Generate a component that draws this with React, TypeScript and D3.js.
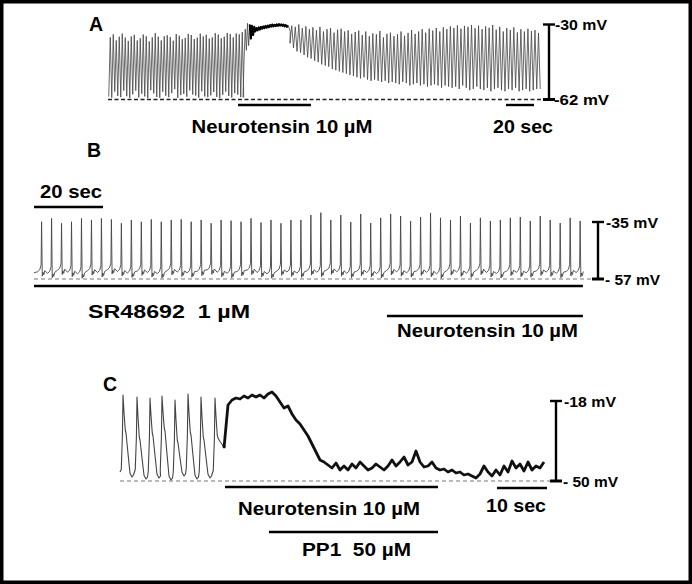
import React from "react";
import * as d3 from "d3";

const W = 692;
const H = 584;
const font = "'Liberation Sans', Arial, Helvetica, sans-serif";

// ---- Panel A: spontaneous firing, neurotensin 10 µM (mV) ----
const aPreSpan = [1.5, 89.5]; // s, first/last spike before the drug
const aPrePeaks = [-35.5, -34.2, -36.8, -35.2, -33.9, -35.6, -37.0, -35.1, -34.4, -36.8, -35.9, -34.3, -35.0, -37.2, -35.5, -33.7, -35.2, -36.8, -35.0, -34.6, -35.4, -36.9, -34.1, -34.8, -36.3, -35.7, -34.0, -34.5, -36.2, -35.6, -33.9, -35.1, -34.4, -36.0, -35.5, -33.7, -34.3, -35.9, -35.2, -33.6, -34.1, -35.5, -33.8, -34.2, -33.3];
const aPreTroughs = [-60.8, -61.2, -58.6, -60.5, -61.0, -58.2, -60.6, -61.3, -59.8, -58.2, -61.1, -59.5, -60.7, -61.4, -58.0, -59.4, -60.9, -61.2, -58.7, -60.4, -61.0, -59.3, -57.6, -61.3, -60.1, -59.6, -60.8, -58.1, -59.9, -60.3, -61.2, -58.5, -60.7, -61.0, -60.2, -58.8, -60.9, -61.3, -60.0, -58.6, -60.5, -61.1, -59.3, -59.9, -61.0];
const aPlateauStart = 90;
const aPlateauStep = 0.75;
const aPlateau = [-61.0, -44, -32, -41, -29.5, -39, -30, -36, -30.5, -34.5, -31, -33, -31.5, -32.5, -31.2, -32.2, -31, -31.8, -30.8, -31.6, -30.6, -31.4, -30.4, -31.2, -30.2, -30.9, -30, -30.8, -30.1, -30.7, -29.9, -30.6, -29.8, -30.5, -29.9, -30.6, -30, -30.8, -30.2, -31, -30.4, -31.5, -33];
const aPostSpan = [122.5, 287];
const aPostPeaks = [-30.5, -31, -30, -31.5, -30.8, -32, -31.2, -32.5, -31, -33, -32, -31.5, -33.5, -32.2, -31.8, -33, -32.5, -34, -33.2, -32.6, -34.5, -33, -35, -33.8, -34.2, -32.8, -35.5, -34, -33.5, -35, -34.2, -33, -34.8, -33.6, -32.4, -34, -33, -32, -33.5, -31.8, -32.6, -31.5, -33, -31.2, -32, -30.8, -31.5, -30.4, -31.8, -30.6, -31, -30.2, -31.6, -30.5, -32, -30.8, -31.4, -30.2, -32.2, -31, -33, -31.6, -32.4, -31.2, -33.4, -32, -33, -31.8, -32.8, -32.4, -33.6];
const aPostTroughs = [-38, -40, -41.5, -42, -43, -44, -44.5, -45.5, -46, -47, -47.5, -48, -49, -49.5, -50, -50.5, -51, -51.5, -52, -52.5, -53, -52.5, -53.5, -54, -53.5, -54, -54.5, -54, -55, -54.5, -55, -55.5, -54.5, -55, -56, -55.5, -55, -56, -55.5, -56.5, -56, -55.5, -56, -57, -56, -56.5, -57, -56.5, -57.5, -56, -57, -58, -57.5, -56.5, -57.5, -58, -57, -58.5, -57.5, -57, -58, -58.5, -57.5, -58, -57, -58.5, -58, -57.5, -58.5, -58, -57.5];

// ---- Panel B: SR48692 1 µM, then neurotensin 10 µM ----
const bSpan = [2.2, 158.3];
const bPeaks = [-34.9, -33.6, -35.5, -34.9, -33.6, -34.2, -33.6, -34.0, -35.5, -34.2, -34.9, -34.0, -34.9, -34.2, -34.0, -34.9, -34.2, -35.5, -34.2, -34.5, -34.9, -33.6, -35.2, -34.2, -35.5, -34.2, -34.2, -32.3, -31.4, -34.2, -32.3, -35.0, -31.9, -35.4, -33.4, -31.9, -32.7, -34.6, -33.1, -31.5, -33.4, -34.2, -32.7, -35.4, -33.4, -34.6, -34.2, -33.4, -33.1, -34.6, -32.7, -34.2, -35.4, -33.4, -34.6];
const bTroughs = [-55.6, -56.2, -55.0, -55.8, -56.4, -55.2, -55.9, -54.8, -55.5, -56.1, -55.3, -55.9, -56.3, -55.1, -55.7, -56.0, -55.4, -54.9, -55.8, -56.2, -55.5, -55.0, -55.9, -56.4, -55.3, -55.7, -56.1, -55.2, -55.8, -54.9, -55.6, -56.2, -55.4, -55.9, -56.3, -55.1, -55.6, -56.0, -55.3, -55.8, -56.4, -55.2, -55.7, -56.1, -55.0, -55.9, -56.3, -55.4, -55.8, -56.0, -55.3, -55.7, -56.2, -55.5, -55.9];

// ---- Panel C: neurotensin 10 µM + PP1 50 µM ----
const cSpikeTimes = [0.6, 3.4, 6.0, 8.4, 11.0, 13.6, 16.2, 19.0];
const cPeaks = [-15.6, -16.4, -16.8, -16.0, -17.6, -15.2, -16.4, -16.8];
const cShoulders = [-29.6, -32.4, -30.8, -28.8, -33.6, -30.4, -32.4, -31.6];
const cTroughs = [-48.4, -49.2, -48.8, -49.6, -48.0, -49.2, -48.8, -36.8];
const cPlateauStart = 20.8;
const cPlateauStep = 0.8;
const cPlateau = [-36.8, -19.6, -17.6, -16.8, -17.2, -16.0, -16.8, -15.6, -16.4, -15.6, -16.8, -15.2, -14.4, -16.0, -18.4, -20.8, -20.0, -23.2, -25.6, -27.2, -29.6, -32.0, -35.2, -38.4, -41.6, -42.4, -43.6, -44.8, -42.8, -45.6, -44.0, -45.6, -43.2, -44.8, -42.4, -44.0, -45.6, -44.8, -43.2, -44.4, -45.6, -44.0, -41.6, -44.0, -42.4, -40.4, -43.6, -42.4, -38.0, -42.4, -44.4, -44.0, -42.4, -44.8, -45.6, -45.2, -46.4, -45.6, -46.8, -46.4, -47.6, -47.2, -48.0, -48.8, -47.2, -44.0, -46.4, -48.0, -45.6, -47.6, -44.0, -46.4, -42.0, -44.8, -43.2, -46.0, -42.4, -45.6, -44.0, -44.8, -42.4];

// scales (time in s, voltage in mV)
const xA = d3.scaleLinear().domain([0, 288]).range([108, 540]);
const yA = d3.scaleLinear().domain([-62, -30]).range([99.5, 24.5]);
const xB = d3.scaleLinear().domain([0, 160]).range([34, 586]);
const yB = d3.scaleLinear().domain([-57, -35]).range([279, 222]);
const xC = d3.scaleLinear().domain([0, 85]).range([120, 545]);
const yC = d3.scaleLinear().domain([-50, -18]).range([481, 401]);

type Pt = [number, number];

const spread = (span: number[], n: number) =>
  d3.range(n).map((i) => span[0] + (i * (span[1] - span[0])) / (n - 1));

// dense zig-zag spikes (panel A)
function zigzag(span: number[], peaks: number[], troughs: number[]): Pt[] {
  const n = Math.min(peaks.length, troughs.length);
  const times = spread(span, n);
  const p = (span[1] - span[0]) / (n - 1);
  const pts: Pt[] = [];
  times.forEach((t, i) => {
    pts.push([t - 0.5 * p, troughs[i]]);
    pts.push([t, peaks[i]]);
  });
  pts.push([times[n - 1] + 0.5 * p, troughs[n - 1]]);
  return pts;
}

function samples(start: number, step: number, vals: number[]): Pt[] {
  return vals.map((v, i) => [start + i * step, v] as Pt);
}

function trainB(): Pt[] {
  const n = Math.min(bPeaks.length, bTroughs.length);
  const times = spread(bSpan, n);
  const p = (bSpan[1] - bSpan[0]) / (n - 1);
  const pts: Pt[] = [[0, bTroughs[0] + 1]];
  times.forEach((t, i) => {
    const tr = bTroughs[i];
    pts.push([t - 0.4 * p, tr + 1.4]);
    pts.push([t - 0.18 * p, tr + 2.2]);
    pts.push([t - 0.05 * p, tr + 4]);
    pts.push([t, bPeaks[i]]);
    pts.push([t + 0.07 * p, tr - 0.3]);
    pts.push([t + 0.14 * p, tr + 1.2]);
    pts.push([t + 0.22 * p, tr + 0.2]);
    pts.push([t + 0.32 * p, tr + 1.8]);
  });
  return pts;
}

function trainC(): Pt[] {
  const pts: Pt[] = [[0, cTroughs[0] + 2]];
  cSpikeTimes.forEach((t, i) => {
    const tr = i > 0 ? cTroughs[i - 1] : cTroughs[0];
    pts.push([t - 0.35, tr + 3]);
    pts.push([t - 0.12, (tr + cPeaks[i]) / 2]);
    pts.push([t, cPeaks[i]]);
    pts.push([t + 0.2, (cPeaks[i] + cShoulders[i]) / 2]);
    pts.push([t + 0.45, cShoulders[i]]);
    pts.push([t + 0.6, cShoulders[i] - 1.2]);
    pts.push([t + 1.0, (cShoulders[i] + cTroughs[i]) / 2]);
    pts.push([t + 1.4, cTroughs[i] + 1.5]);
    pts.push([t + 1.8, cTroughs[i]]);
    pts.push([t + 2.1, cTroughs[i] + 0.8]);
  });
  return pts;
}

function Trace({ pts, x, y, stroke, width }: any) {
  const line = d3
    .line<Pt>()
    .x((d) => x(d[0]))
    .y((d) => y(d[1]));
  return (
    <path
      d={line(pts) ?? ""}
      fill="none"
      stroke={stroke}
      strokeWidth={width}
      strokeLinejoin="round"
    />
  );
}

function ScaleBar({ x, top, bottom, topLabel, botLabel, labelDx }: any) {
  return (
    <g>
      <line x1={x} x2={x} y1={top} y2={bottom} stroke="#000" strokeWidth={2.4} />
      <line x1={x - 6} x2={x + 6} y1={top} y2={top} stroke="#000" strokeWidth={2.4} />
      <line x1={x - 6} x2={x + 6} y1={bottom} y2={bottom} stroke="#000" strokeWidth={3} />
      <text x={x + labelDx} y={top + 5.5} fontSize={15} textLength={52} lengthAdjust="spacingAndGlyphs">
        {topLabel}
      </text>
      <text x={x + labelDx - 1} y={bottom + 5.5} fontSize={15} textLength={55} lengthAdjust="spacingAndGlyphs" style={{ whiteSpace: "pre" }}>
        {botLabel}
      </text>
    </g>
  );
}

function Bar({ x, t0, t1, y }: any) {
  return <line x1={x(t0)} x2={x(t1)} y1={y} y2={y} stroke="#000" strokeWidth={2.4} />;
}

function Label({ x, y, len, children }: any) {
  return (
    <text x={x} y={y} fontSize={18.5} textLength={len} lengthAdjust="spacingAndGlyphs" style={{ whiteSpace: "pre" }}>
      {children}
    </text>
  );
}

export default function App() {
  const aPts = [
    ...zigzag(aPreSpan, aPrePeaks, aPreTroughs),
    ...samples(aPlateauStart, aPlateauStep, aPlateau),
    ...zigzag(aPostSpan, aPostPeaks, aPostTroughs),
  ];
  const bPts = trainB();
  const cPts = trainC();
  const cPlat = samples(cPlateauStart, cPlateauStep, cPlateau);

  return (
    <svg
      width={W}
      height={H}
      style={{ position: "absolute", left: 0, top: 0, background: "#fff" }}
      fontFamily={font}
      fontWeight="bold"
    >
      <rect x={1.75} y={1.75} width={W - 3.5} height={H - 3.5} fill="#fff" stroke="#000" strokeWidth={3.5} />

      {/* A */}
      <text x={89} y={30.5} fontSize={19.5}>A</text>
      <line x1={108} x2={543} y1={yA(-62)} y2={yA(-62)} stroke="#222" strokeWidth={1.3} strokeDasharray="4 2.5" />
      <Trace pts={aPts} x={xA} y={yA} stroke="#444" width={0.8} />
      <Trace pts={samples(aPlateauStart + 6 * aPlateauStep, aPlateauStep, aPlateau.slice(6, 41))} x={xA} y={yA} stroke="#000" width={2} />
      <ScaleBar x={549} top={yA(-30)} bottom={yA(-62)} topLabel="-30 mV" botLabel="-62 mV" labelDx={6} />
      <Bar x={xA} t0={86.7} t1={135.3} y={105} />
      <Bar x={xA} t0={265.3} t1={284} y={105} />
      <Label x={191.5} y={133.3} len={181}>Neurotensin 10 µM</Label>
      <Label x={493} y={133.3} len={60}>20 sec</Label>

      {/* B */}
      <text x={87} y={156.5} fontSize={19.5}>B</text>
      <Label x={40} y={198} len={62}>20 sec</Label>
      <Bar x={xB} t0={0} t1={20} y={207} />
      <line x1={34} x2={592} y1={yB(-57)} y2={yB(-57)} stroke="#777" strokeWidth={1.1} strokeDasharray="4 3" />
      <Trace pts={bPts} x={xB} y={yB} stroke="#444" width={0.9} />
      <ScaleBar x={598} top={yB(-35)} bottom={yB(-57)} topLabel="-35 mV" botLabel="- 57 mV" labelDx={8} />
      <Bar x={xB} t0={0} t1={159.1} y={286} />
      <Label x={88} y={318} len={162}>SR48692  1 µM</Label>
      <Bar x={xB} t0={102.3} t1={159.1} y={316} />
      <Label x={397} y={337} len={181}>Neurotensin 10 µM</Label>

      {/* C */}
      <text x={103} y={391} fontSize={19.5}>C</text>
      <line x1={120} x2={550} y1={yC(-50)} y2={yC(-50)} stroke="#777" strokeWidth={1.2} strokeDasharray="4 3" />
      <Trace pts={cPts} x={xC} y={yC} stroke="#444" width={1.1} />
      <Trace pts={cPlat} x={xC} y={yC} stroke="#111" width={2.8} />
      <ScaleBar x={556} top={yC(-18)} bottom={yC(-50)} topLabel="-18 mV" botLabel="- 50 mV" labelDx={8} />
      <Bar x={xC} t0={21} t1={63.6} y={487} />
      <Label x={238} y={515} len={182}>Neurotensin 10 µM</Label>
      <Bar x={xC} t0={29.8} t1={63.6} y={532} />
      <Label x={302} y={556} len={109}>PP1  50 µM</Label>
      <Bar x={xC} t0={75.4} t1={85.4} y={488} />
      <Label x={486} y={512} len={60}>10 sec</Label>
    </svg>
  );
}
